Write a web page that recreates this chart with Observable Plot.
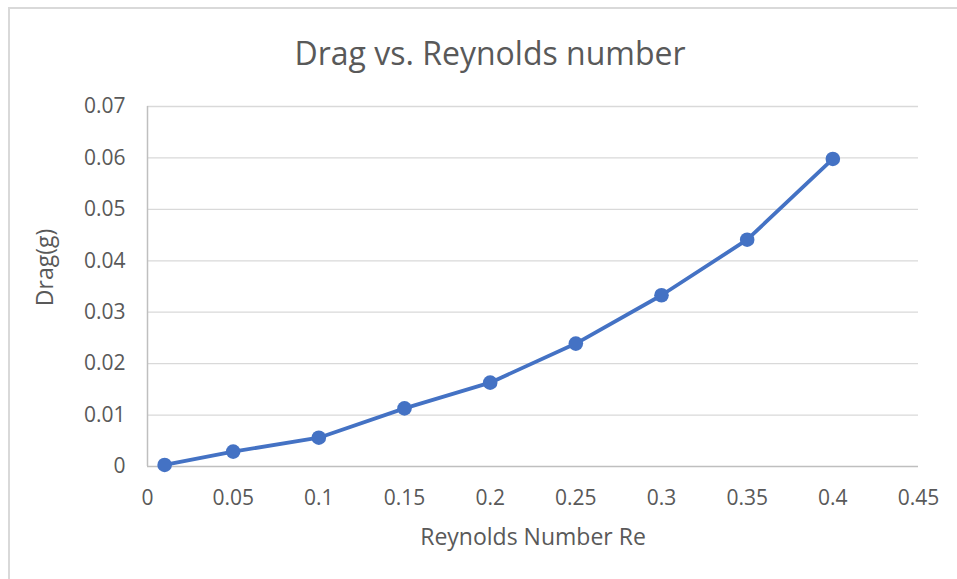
<!DOCTYPE html>
<html>
<head>
<meta charset="utf-8">
<script src="https://cdn.jsdelivr.net/npm/d3@7"></script>
<script src="https://cdn.jsdelivr.net/npm/@observablehq/plot@0.6"></script>
<style>
  html, body { margin: 0; padding: 0; background: #fff; }
  #wrap { position: relative; width: 957px; height: 579px; overflow: hidden; background: #fff; }
  #frame { position: absolute; left: 8px; top: 7px; width: 1000px; height: 1000px; border: 2px solid #d9d9d9; box-sizing: border-box; }
  #chart { position: absolute; left: 0; top: 0; }
  #chart svg { font-family: "Open Sans", sans-serif; }
</style>
</head>
<body>
<div id="wrap">
  <div id="frame"></div>
  <div id="chart"></div>
</div>
<script>
// Reynolds number and measured drag
const reynolds = [0.01, 0.05, 0.1, 0.15, 0.2, 0.25, 0.3, 0.35, 0.4];
const drag = [0.0003, 0.0029, 0.0056, 0.0113, 0.0163, 0.0239, 0.0333, 0.0441, 0.0598];

const xTicks = [0, 0.05, 0.1, 0.15, 0.2, 0.25, 0.3, 0.35, 0.4, 0.45];
const yTicks = [0, 0.01, 0.02, 0.03, 0.04, 0.05, 0.06, 0.07];

const titleText = "Drag vs. Reynolds number";
const xLabel = "Reynolds Number Re";
const yLabel = "Drag(g)";

const rows = reynolds.map((r, i) => ({re: r, drag: drag[i]}));
const fmt = d => String(+d.toFixed(2));

const textColor = "#595959";
const lineColor = "#4472c4";

const chart = Plot.plot({
  width: 957,
  height: 579,
  marginLeft: 147,
  marginRight: 39,
  marginTop: 106,
  marginBottom: 113,
  style: {fontFamily: "Open Sans, sans-serif", color: textColor, background: "transparent"},
  x: {domain: [0, 0.45]},
  y: {domain: [0, 0.07]},
  marks: [
    Plot.gridY(yTicks.filter(d => d > 0), {stroke: "#d9d9d9", strokeOpacity: 1, strokeWidth: 1.3}),
    Plot.ruleX([0], {stroke: "#bfbfbf", strokeWidth: 1.5}),
    Plot.ruleY([0], {stroke: "#bfbfbf", strokeWidth: 1.5}),
    Plot.axisX({ticks: xTicks, tickSize: 0, tickPadding: 24, tickFormat: fmt, fontSize: 21, fill: textColor, label: null}),
    Plot.axisY({ticks: yTicks, tickSize: 0, tickPadding: 22, tickFormat: fmt, fontSize: 21, fill: textColor, label: null}),
    Plot.line(rows, {x: "re", y: "drag", stroke: lineColor, strokeWidth: 3.8}),
    Plot.dot(rows, {x: "re", y: "drag", fill: lineColor, r: 7.3}),
    Plot.text([titleText], {frameAnchor: "top", dx: -43, dy: -64, fontSize: 32, fill: textColor}),
    Plot.text([xLabel], {frameAnchor: "bottom", dy: 78, fontSize: 23, fill: textColor}),
    Plot.text([yLabel], {frameAnchor: "left", textAnchor: "middle", dx: -102, dy: -19, rotate: -90, fontSize: 23, fill: textColor})
  ]
});
document.getElementById("chart").appendChild(chart);
</script>
</body>
</html>
